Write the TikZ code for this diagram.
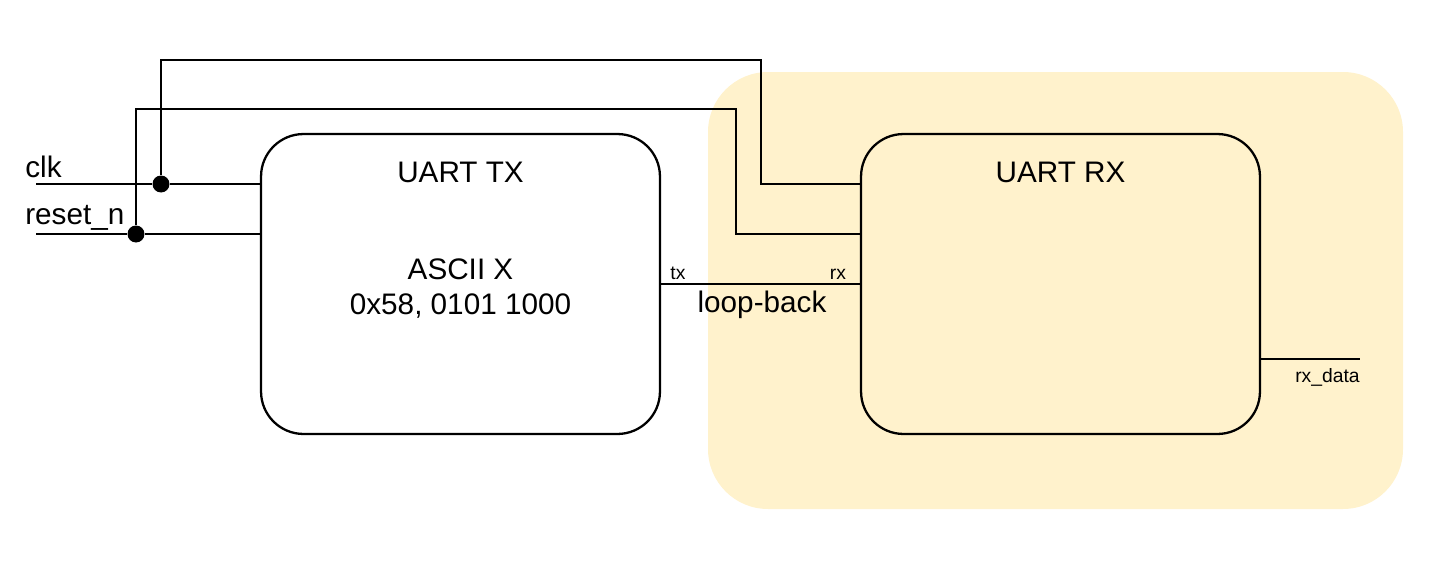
\documentclass[tikz,border=0pt]{standalone}
\usepackage{fontspec}
\setmainfont{Liberation Sans}
\usetikzlibrary{positioning}
\definecolor{rxarea}{HTML}{FFF2CC}

\tikzset{
  block/.style={draw,line width=1.3pt,rounded corners=0.85cm,minimum width=7.98cm,minimum height=6cm},
  wire/.style={line width=1.3pt},
  joint/.style={circle,fill,inner sep=0pt,minimum size=0.34cm},
  pinlabel/.style={font=\fontsize{11}{13}\selectfont,anchor=base,inner sep=0pt},
}

\begin{document}
\begin{tikzpicture}[x=0.02cm,y=-0.02cm,font=\fontsize{16.9}{20}\selectfont]
  \useasboundingbox (0,0) rectangle (1444,578);
  % receiver area
  \fill[rxarea,rounded corners=1.2cm](708,72) rectangle (1403,509);
  % blocks
  \node[block](uarttx) at (460.5,284){};
  \node[block](uartrx) at (1060.5,284){};
  \node(txtitle) at (460.5,172){UART TX};
  \node(rxtitle) at (1060.5,172){UART RX};
  \node[anchor=base](txmsg) at (460.5,279){ASCII X};
  \node[anchor=base](txcode) at (460.5,314){0x58, 0101 1000};
  % inputs
  \coordinate(clkin) at (36,184);
  \coordinate(rstin) at (36,234);
  \node[anchor=base west,inner sep=0pt](clklabel) at (25,177){clk};
  \node[anchor=base west,inner sep=0pt](rstlabel) at (25,224){reset\_n};
  \node[joint](clkjoin) at (161,184){};
  \node[joint](rstjoin) at (136,234){};
  \draw[wire](clkin)--(clkjoin)--(clkjoin -| uarttx.west);
  \draw[wire](rstin)--(rstjoin)--(rstjoin -| uarttx.west);
  \draw[wire](clkjoin)|-(761,60)|-(uartrx.west |- clkjoin);
  \draw[wire](rstjoin)|-(736,109)|-(uartrx.west |- rstjoin);
  % loop-back
  \draw[wire](uarttx.east |- 0,284)--(uartrx.west |- 0,284);
  \node[pinlabel](txpin) at (678,279){tx};
  \node[pinlabel](rxpin) at (838,279){rx};
  \node[anchor=base](loop) at (762,312){loop-back};
  % output
  \coordinate(rxout) at (1360,359);
  \draw[wire](uartrx.east |- rxout)--(rxout);
  \node[pinlabel](rxdata) at (1327.5,382){rx\_data};
\end{tikzpicture}
\end{document}
